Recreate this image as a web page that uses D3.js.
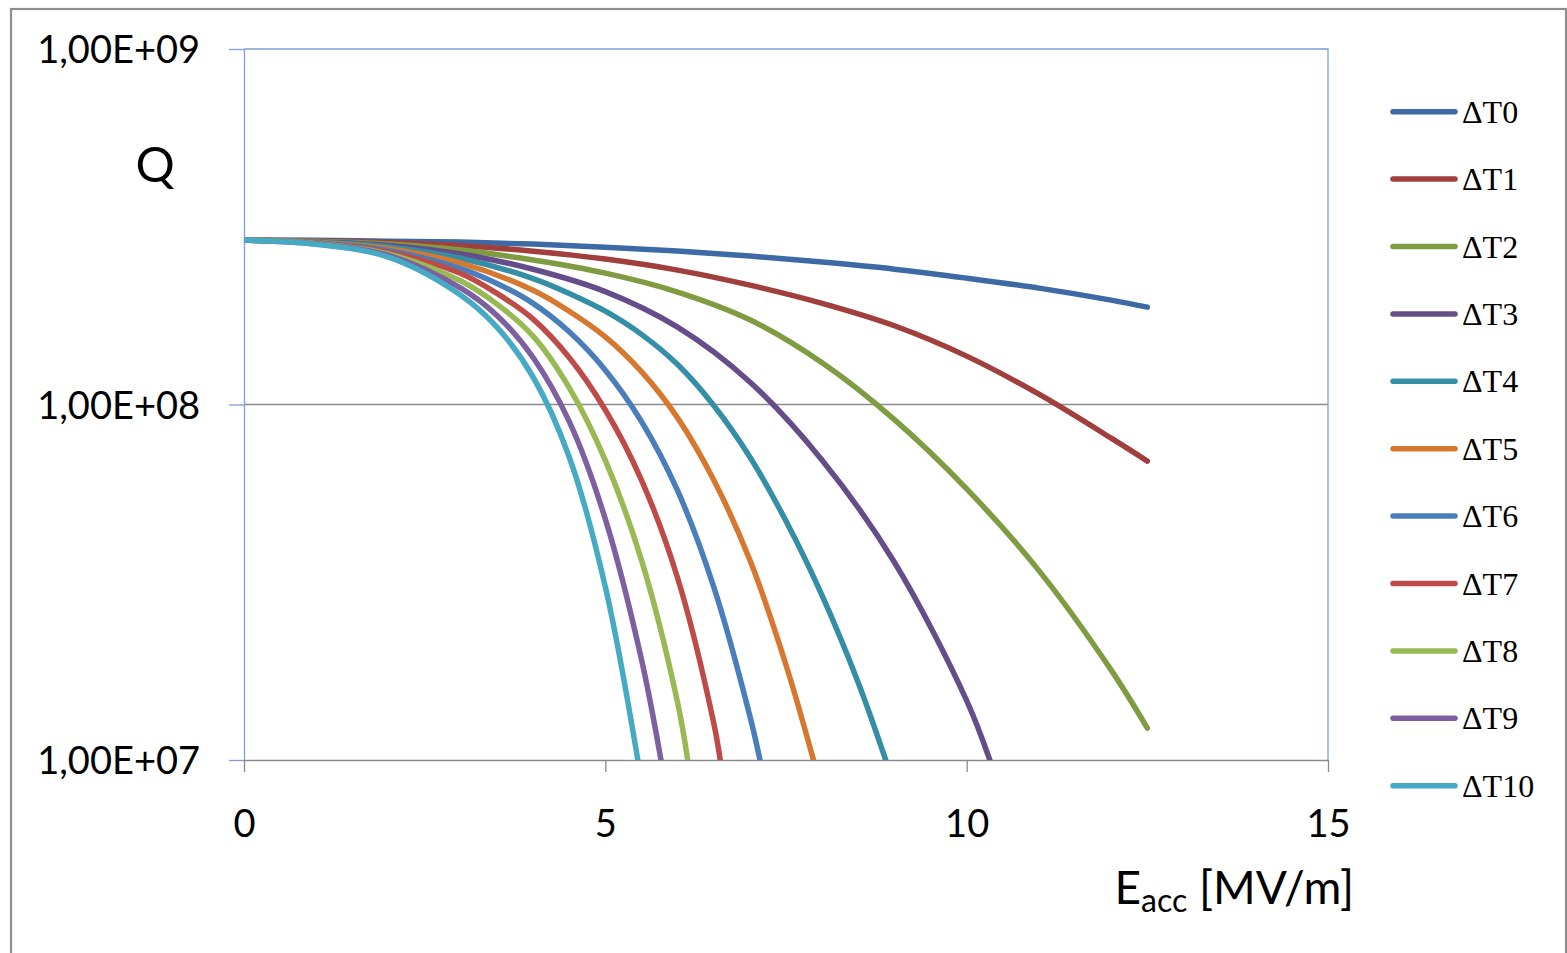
<!DOCTYPE html>
<html>
<head>
<meta charset="utf-8">
<script src="https://cdn.jsdelivr.net/npm/d3@7"></script>
<style>
  html, body { margin: 0; padding: 0; background: #ffffff; }
  svg { display: block; }
</style>
</head>
<body>
<script>
// Quality factor Q versus accelerating field for increasing temperature offsets.
const seriesNames = ["ΔT0", "ΔT1", "ΔT2", "ΔT3", "ΔT4", "ΔT5", "ΔT6", "ΔT7", "ΔT8", "ΔT9", "ΔT10"];

// [E_acc (MV/m), Q]
const dT0 = [[0, 2.90e8], [1, 2.896e8], [2, 2.881e8], [3, 2.863e8], [4, 2.826e8], [5, 2.771e8], [6, 2.701e8], [7, 2.615e8], [8, 2.515e8], [9, 2.403e8], [10, 2.267e8], [11, 2.125e8], [12, 1.966e8], [12.5, 1.879e8]];
const dT1 = [[0, 2.90e8], [1, 2.887e8], [2, 2.854e8], [3, 2.798e8], [4, 2.700e8], [5, 2.565e8], [6, 2.388e8], [7, 2.166e8], [8, 1.925e8], [9, 1.665e8], [10, 1.368e8], [11, 1.069e8], [12, 8.04e7], [12.5, 6.93e7]];
const dT2 = [[0, 2.90e8], [1, 2.880e8], [2, 2.827e8], [3, 2.719e8], [4, 2.549e8], [5, 2.341e8], [6, 2.072e8], [7, 1.731e8], [8, 1.310e8], [9, 9.07e7], [10, 5.79e7], [11, 3.41e7], [12, 1.79e7], [12.5, 1.23e7]];
const dT3 = [[0, 2.90e8], [1, 2.870e8], [2, 2.802e8], [3, 2.651e8], [4, 2.401e8], [5, 2.077e8], [6, 1.650e8], [7, 1.157e8], [8, 6.97e7], [9, 3.60e7], [10, 1.47e7], [10.32, 1.0e7]];
const dT4 = [[0, 2.90e8], [1, 2.864e8], [2, 2.776e8], [3, 2.579e8], [4, 2.261e8], [4.5, 2.053e8], [5, 1.830e8], [5.5, 1.575e8], [6, 1.295e8], [6.5, 9.94e7], [7, 7.12e7], [7.5, 4.70e7], [8, 2.90e7], [8.5, 1.65e7], [8.88, 1.0e7]];
const dT5 = [[0, 2.90e8], [1, 2.857e8], [2, 2.744e8], [3, 2.497e8], [4, 2.096e8], [4.5, 1.830e8], [5, 1.550e8], [5.5, 1.237e8], [6, 9.17e7], [6.5, 6.13e7], [7, 3.65e7], [7.5, 1.85e7], [7.88, 1.0e7]];
const dT6 = [[0, 2.90e8], [1, 2.850e8], [2, 2.713e8], [3, 2.412e8], [3.5, 2.190e8], [4, 1.925e8], [4.5, 1.601e8], [5, 1.249e8], [5.5, 8.96e7], [6, 5.72e7], [6.5, 3.07e7], [7, 1.33e7], [7.14, 1.0e7]];
const dT7 = [[0, 2.90e8], [1, 2.844e8], [2, 2.682e8], [3, 2.336e8], [3.5, 2.053e8], [4, 1.739e8], [4.5, 1.356e8], [5, 9.65e7], [5.5, 6.13e7], [6, 3.25e7], [6.5, 1.27e7], [6.59, 1.0e7]];
const dT8 = [[0, 2.90e8], [1, 2.837e8], [2, 2.651e8], [3, 2.225e8], [3.5, 1.916e8], [4, 1.557e8], [4.5, 1.115e8], [5, 6.96e7], [5.5, 3.65e7], [6, 1.45e7], [6.14, 1.0e7]];
const dT9 = [[0, 2.90e8], [1, 2.831e8], [2, 2.627e8], [3, 2.125e8], [3.5, 1.780e8], [4, 1.356e8], [4.5, 8.96e7], [5, 4.76e7], [5.5, 1.92e7], [5.77, 1.0e7]];
const dT10 = [[0, 2.90e8], [1, 2.824e8], [2, 2.597e8], [3, 2.030e8], [3.5, 1.650e8], [4, 1.195e8], [4.5, 7.12e7], [5, 3.07e7], [5.45, 1.0e7]];

const seriesData = [dT0, dT1, dT2, dT3, dT4, dT5, dT6, dT7, dT8, dT9, dT10];

const xTicks = [0, 5, 10, 15];
const yTicks = [1e7, 1e8, 1e9];
const yTickLabels = ["1,00E+07", "1,00E+08", "1,00E+09"];

const seriesColors = ["#3d6aa5", "#a13f3c", "#7f9c42", "#654d8a", "#348ea6", "#d6782f",
                      "#4a7ebb", "#be4b48", "#98b954", "#7d60a0", "#46aac5"];

// ---- layout ----
const W = 1567, H = 953;
const plot = { left: 244, right: 1328, top: 49, bottom: 760 };
const axisBlue = "#7f9fd2";
const axisGray = "#8a8a8a";
const uiFont = "Lato, 'Open Sans', 'DejaVu Sans', sans-serif";
const legendFont = "'Times New Roman', 'Liberation Serif', serif";

const svg = d3.select("body").append("svg")
  .attr("width", W).attr("height", H)
  .attr("viewBox", `0 0 ${W} ${H}`);

svg.append("rect").attr("x", 0).attr("y", 0).attr("width", W).attr("height", H).attr("fill", "#ffffff");

// outer chart frame
svg.append("rect")
  .attr("x", 11).attr("y", 9).attr("width", 1555).attr("height", 980)
  .attr("fill", "none").attr("stroke", "#8e8e8e").attr("stroke-width", 2.2);

const x = d3.scaleLinear().domain([0, 15]).range([plot.left, plot.right]);
const y = d3.scaleLog().domain([1e7, 1e9]).range([plot.bottom, plot.top]);

// plot-area border (top and right edges)
svg.append("path")
  .attr("d", `M${plot.left},${plot.top}H${plot.right}V${plot.bottom}`)
  .attr("fill", "none").attr("stroke", axisBlue).attr("stroke-width", 1.3);

// horizontal gridline at the middle decade
svg.append("g").selectAll("line")
  .data(yTicks.filter(v => v > 1e7 && v < 1e9))
  .join("line")
  .attr("x1", plot.left).attr("x2", plot.right)
  .attr("y1", d => y(d)).attr("y2", d => y(d))
  .attr("stroke", axisGray).attr("stroke-width", 1.3);

// y axis
const gy = svg.append("g").attr("transform", `translate(${plot.left},0)`)
  .call(d3.axisLeft(y).tickValues(yTicks)
    .tickFormat((d, i) => yTickLabels[i])
    .tickSize(15).tickSizeOuter(0).tickPadding(29));
gy.select(".domain").attr("stroke", axisBlue).attr("stroke-width", 1.3);
gy.selectAll(".tick line").attr("stroke", axisBlue).attr("stroke-width", 1.3);
gy.selectAll(".tick text")
  .attr("font-family", uiFont).attr("font-size", 38).attr("fill", "#000")
  .attr("dy", "0.36em");

// x axis
const gx = svg.append("g").attr("transform", `translate(0,${plot.bottom})`)
  .call(d3.axisBottom(x).tickValues(xTicks).tickFormat(d3.format("d"))
    .tickSize(12).tickSizeOuter(0));
gx.select(".domain").attr("stroke", axisGray).attr("stroke-width", 1.5);
gx.selectAll(".tick line").attr("stroke", axisGray).attr("stroke-width", 1.3);
gx.selectAll(".tick text")
  .attr("font-family", uiFont).attr("font-size", 38).attr("fill", "#000")
  .attr("y", 77).attr("dy", null);

// axis titles
svg.append("text")
  .attr("x", 155).attr("y", 182)
  .attr("text-anchor", "middle")
  .attr("font-family", uiFont).attr("font-size", 49).attr("fill", "#000")
  .text("Q");

const xt = svg.append("text")
  .attr("x", 1354).attr("y", 904)
  .attr("text-anchor", "end")
  .attr("font-family", uiFont).attr("font-size", 46).attr("fill", "#000");
xt.append("tspan").text("E");
xt.append("tspan").attr("font-size", 32).attr("dy", 8).text("acc");
xt.append("tspan").attr("dy", -8).text(" [MV/m]");

// curves
svg.append("clipPath").attr("id", "plot-clip")
  .append("rect")
  .attr("x", plot.left).attr("y", plot.top - 10)
  .attr("width", plot.right - plot.left + 10)
  .attr("height", plot.bottom - plot.top + 10);

const line = d3.line()
  .x(d => x(d[0]))
  .y(d => y(d[1]))
  .curve(d3.curveCatmullRom.alpha(0.5));

svg.append("g").attr("clip-path", "url(#plot-clip)")
  .selectAll("path")
  .data(seriesData)
  .join("path")
  .attr("d", d => line(d))
  .attr("fill", "none")
  .attr("stroke", (d, i) => seriesColors[i])
  .attr("stroke-width", 5.5)
  .attr("stroke-linecap", "round")
  .attr("stroke-linejoin", "round");

// legend
const legend = svg.append("g");
const legendTop = 111.7, legendStep = 67.4;
const items = legend.selectAll("g")
  .data(seriesNames)
  .join("g")
  .attr("transform", (d, i) => `translate(0,${legendTop + i * legendStep})`);
items.append("line")
  .attr("x1", 1393).attr("x2", 1455).attr("y1", 0).attr("y2", 0)
  .attr("stroke", (d, i) => seriesColors[i])
  .attr("stroke-width", 5.5).attr("stroke-linecap", "round");
items.append("text")
  .attr("x", 1462).attr("y", 11)
  .attr("font-family", legendFont).attr("font-size", 32).attr("fill", "#000")
  .text(d => d);
</script>
</body>
</html>
